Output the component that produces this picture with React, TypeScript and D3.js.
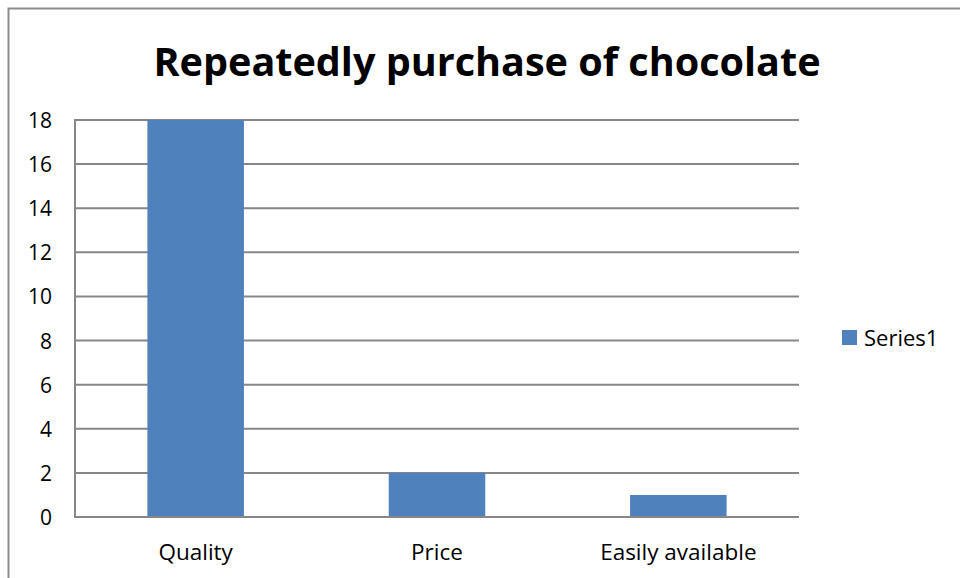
import React from "react";
import * as d3 from "d3";

const categories = ["Quality", "Price", "Easily available"];
const series1 = [18, 2, 1];
const yTicks = [0, 2, 4, 6, 8, 10, 12, 14, 16, 18];
const seriesName = "Series1";
const title = "Repeatedly purchase of chocolate";

export default function App() {
  const W = 960, H = 578;
  const plot = { left: 75, right: 799, top: 120, bottom: 517 };
  const x = d3.scaleBand().domain(categories).range([plot.left, plot.right]).paddingInner(0.6).paddingOuter(0.3);
  const y = d3.scaleLinear().domain([0, 18]).range([plot.bottom, plot.top]);
  const grid = "#878787";
  const barColor = "#4f81bd";
  const font = "'Open Sans', 'Noto Sans', sans-serif";
  return (
    <svg width={W} height={H} style={{ position: "absolute", left: 0, top: 0, background: "#fff" }}>
      <rect x={0} y={0} width={W} height={H} fill="#fff" />
      <path d={`M8.5,${H + 5} L8.5,8.5 L${W + 5},8.5`} fill="none" stroke="#8c8c8c" strokeWidth={2} />
      <text x={487} y={76} textAnchor="middle" fontFamily={font} fontWeight="bold" fontSize={40} textLength={667} lengthAdjust="spacingAndGlyphs" fill="#000">{title}</text>
      {yTicks.map((t) => (
        <g key={t}>
          <line x1={plot.left} x2={plot.right} y1={y(t)} y2={y(t)} stroke={grid} strokeWidth={2} />
          <text x={52} y={y(t) + 8} textAnchor="end" fontFamily={font} fontSize={21} fill="#000">{t}</text>
        </g>
      ))}
      <line x1={plot.left} x2={plot.left} y1={plot.top - 1} y2={plot.bottom + 1} stroke={grid} strokeWidth={2} />
      {categories.map((c, i) => (
        <g key={c}>
          <rect x={x(c)} y={y(series1[i])} width={x.bandwidth()} height={y(0) - y(series1[i]) - 1} fill={barColor} />
          <text x={(x(c) as number) + x.bandwidth() / 2} y={560} textAnchor="middle" fontFamily={font} fontSize={22.5} fill="#000">{c}</text>
        </g>
      ))}
      <rect x={842} y={330} width={15} height={15} fill={barColor} />
      <text x={864} y={346} fontFamily={font} fontSize={22} fill="#000">{seriesName}</text>
    </svg>
  );
}
